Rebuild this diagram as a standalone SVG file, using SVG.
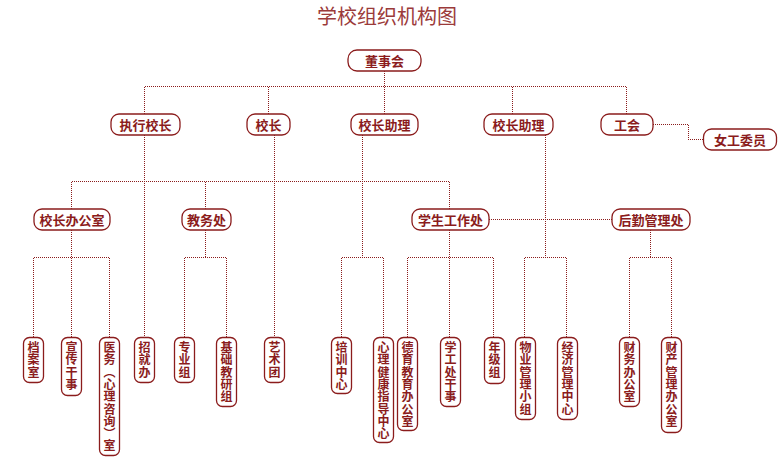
<svg xmlns="http://www.w3.org/2000/svg" width="780" height="465" viewBox="0 0 780 465">
<style>
.bx{fill:#fff;stroke:#8b1c1c;stroke-width:1.3}
.t{font-family:"Noto Sans CJK SC","Noto Sans",sans-serif;font-weight:bold;font-size:13px;fill:#8b1c1c;text-anchor:middle}
.v{font-family:"Noto Sans CJK SC","Noto Sans",sans-serif;font-weight:bold;font-size:12px;fill:#8b1c1c;writing-mode:vertical-rl;letter-spacing:0.3px}
.c{fill:none;stroke:#8b1c1c;stroke-width:1;stroke-dasharray:1 1;shape-rendering:crispEdges}
</style>
<rect width="780" height="465" fill="#fff"/>
<text x="387" y="23.5" font-family="'Noto Sans CJK SC',sans-serif" font-size="20" fill="#9b3a3a" text-anchor="middle">学校组织机构图</text>
<g id="connectors" class="c">
<path d="M384.5 71V114M144.5 86.5H626.5M144.5 86.5V114M268.5 86.5V114M512.5 86.5V114M626.5 86.5V114"/>
<path d="M653 124.5H688.5V139.5H703.5"/>
<path d="M144.5 135V337.5M274.5 135V337.5M362.5 135V257.5M545.5 135V257.5"/>
<path d="M71.5 181.5H449.5M71.5 181.5V209M205.5 181.5V209M449.5 181.5V209"/>
<path d="M489 219.5H612"/>
<path d="M71.5 230V337.5M33.5 257.5H109.5M33.5 257.5V337.5M109.5 257.5V337.5"/>
<path d="M205.5 230V257.5M184.5 257.5H226.5M184.5 257.5V337.5M226.5 257.5V337.5"/>
<path d="M341.5 257.5H383.5M341.5 257.5V337.5M383.5 257.5V337.5"/>
<path d="M449.5 230V337.5M407.5 257.5H493.5M407.5 257.5V337.5M493.5 257.5V337.5"/>
<path d="M524.5 257.5H566.5M524.5 257.5V337.5M566.5 257.5V337.5"/>
<path d="M650.5 230V257.5M629.5 257.5H671.5M629.5 257.5V337.5M671.5 257.5V337.5"/>
</g>
<g id="n-dsh"><rect class="bx" x="348" y="50" width="73" height="21" rx="9"/><text class="t" x="384.5" y="66" font-size="15">董事会</text></g>
<g id="n-zxxz"><rect class="bx" x="111" y="114" width="69" height="21" rx="8"/><text class="t" x="145.5" y="129.5">执行校长</text></g>
<g id="n-xz"><rect class="bx" x="247" y="114" width="43" height="21" rx="8"/><text class="t" x="268.5" y="129.5">校长</text></g>
<g id="n-xzzl1"><rect class="bx" x="351" y="114" width="67" height="21" rx="8"/><text class="t" x="384.5" y="129.5">校长助理</text></g>
<g id="n-xzzl2"><rect class="bx" x="484" y="114" width="69" height="21" rx="8"/><text class="t" x="518.5" y="129.5">校长助理</text></g>
<g id="n-gh"><rect class="bx" x="601" y="114" width="52" height="21" rx="8"/><text class="t" x="627" y="129.5">工会</text></g>
<g id="n-ngwy"><rect class="bx" x="703.5" y="129" width="73" height="21" rx="8"/><text class="t" x="740" y="144.5">女工委员</text></g>
<g id="n-xzbgs"><rect class="bx" x="34" y="209" width="76" height="21" rx="8"/><text class="t" x="72" y="224.5">校长办公室</text></g>
<g id="n-jwc"><rect class="bx" x="182" y="209" width="49" height="21" rx="8"/><text class="t" x="206.5" y="224.5">教务处</text></g>
<g id="n-xsgzc"><rect class="bx" x="412" y="209" width="77" height="21" rx="8"/><text class="t" x="450.5" y="224.5">学生工作处</text></g>
<g id="n-hqglc"><rect class="bx" x="612" y="209" width="78" height="21" rx="8"/><text class="t" x="651" y="224.5">后勤管理处</text></g>
<g id="l-das"><rect class="bx" x="23.5" y="337.5" width="20" height="45" rx="6"/><text class="v" x="33.5" y="341.5">档案室</text></g>
<g id="l-xcgs"><rect class="bx" x="61.5" y="337.5" width="20" height="58" rx="6"/><text class="v" x="71.5" y="341.5">宣传干事</text></g>
<g id="l-yws"><rect class="bx" x="99.5" y="337.5" width="20" height="118" rx="6"/><text class="v" x="109.5" y="341.5">医务（心理咨询）室</text></g>
<g id="l-zjb"><rect class="bx" x="134.5" y="337.5" width="20" height="45" rx="6"/><text class="v" x="144.5" y="341.5">招就办</text></g>
<g id="l-zyz"><rect class="bx" x="174.5" y="337.5" width="20" height="45" rx="6"/><text class="v" x="184.5" y="341.5">专业组</text></g>
<g id="l-jcjyz"><rect class="bx" x="216.5" y="337.5" width="20" height="69" rx="6"/><text class="v" x="226.5" y="341.5">基础教研组</text></g>
<g id="l-yst"><rect class="bx" x="264.5" y="337.5" width="20" height="45" rx="6"/><text class="v" x="274.5" y="341.5">艺术团</text></g>
<g id="l-pxzx"><rect class="bx" x="331.5" y="337.5" width="20" height="56" rx="6"/><text class="v" x="341.5" y="341.5">培训中心</text></g>
<g id="l-xljk"><rect class="bx" x="373.5" y="337.5" width="20" height="105" rx="6"/><text class="v" x="383.5" y="341.5">心理健康指导中心</text></g>
<g id="l-dyjy"><rect class="bx" x="397.5" y="337.5" width="20" height="93" rx="6"/><text class="v" x="407.5" y="341.5">德育教育办公室</text></g>
<g id="l-xgcgs"><rect class="bx" x="440.5" y="337.5" width="20" height="69" rx="6"/><text class="v" x="450.5" y="341.5">学工处干事</text></g>
<g id="l-njz"><rect class="bx" x="484.5" y="337.5" width="20" height="46" rx="6"/><text class="v" x="494.5" y="341.5">年级组</text></g>
<g id="l-wyglxz"><rect class="bx" x="515.5" y="337.5" width="20" height="82" rx="6"/><text class="v" x="525.5" y="341.5">物业管理小组</text></g>
<g id="l-jjglzx"><rect class="bx" x="557.5" y="337.5" width="20" height="82" rx="6"/><text class="v" x="567.5" y="341.5">经济管理中心</text></g>
<g id="l-cwbgs"><rect class="bx" x="619.5" y="337.5" width="20" height="69" rx="6"/><text class="v" x="629.5" y="341.5">财务办公室</text></g>
<g id="l-ccglbgs"><rect class="bx" x="661.5" y="337.5" width="20" height="95" rx="6"/><text class="v" x="671.5" y="341.5">财产管理办公室</text></g>
</svg>
